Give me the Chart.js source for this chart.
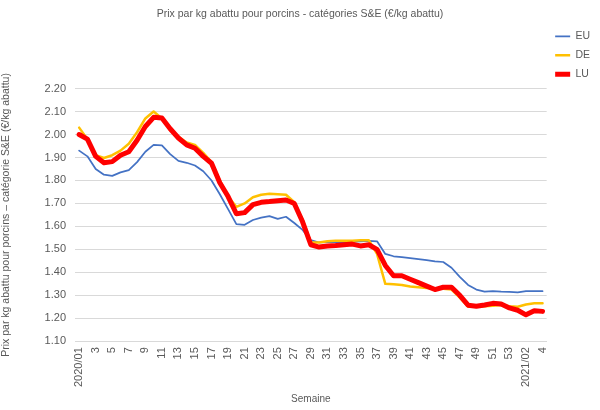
<!DOCTYPE html>
<html lang="fr">
<head>
    <meta charset="UTF-8">
    <title>Prix par kg abattu pour porcins</title>
    <style>
        html, body {
            margin: 0;
            padding: 0;
            background: #ffffff;
        }
        #wrap {
            width: 600px;
            height: 410px;
        }
    </style>
    <script src="https://cdn.jsdelivr.net/npm/chart.js"></script>
</head>
<body>
    <div id="wrap"><canvas id="porcChart"></canvas></div>

    <script>
        // Semaines 2020/01 .. 2020/53, puis 2021/01 .. 2021/04
        const weeks = [
            '2020/01', '2', '3', '4', '5', '6', '7', '8', '9', '10',
            '11', '12', '13', '14', '15', '16', '17', '18', '19', '20',
            '21', '22', '23', '24', '25', '26', '27', '28', '29', '30',
            '31', '32', '33', '34', '35', '36', '37', '38', '39', '40',
            '41', '42', '43', '44', '45', '46', '47', '48', '49', '50',
            '51', '52', '53', '2021/01', '2021/02', '3', '4'
        ];

        const euPrices = [
            1.93, 1.905, 1.85, 1.825, 1.82, 1.835, 1.845, 1.88, 1.925, 1.955,
            1.953, 1.915, 1.885, 1.877, 1.865, 1.84, 1.80, 1.74, 1.675, 1.61,
            1.607, 1.628, 1.638, 1.645, 1.633, 1.642, 1.615, 1.585, 1.54, 1.53,
            1.532, 1.533, 1.532, 1.534, 1.535, 1.537, 1.535, 1.48, 1.47, 1.466,
            1.462, 1.458, 1.453, 1.448, 1.445, 1.42, 1.38, 1.345, 1.325, 1.316,
            1.318, 1.316, 1.315, 1.313, 1.318, 1.318, 1.318
        ];

        const dePrices = [
            2.03, 1.98, 1.91, 1.898, 1.91, 1.93, 1.96, 2.01, 2.07, 2.10,
            2.07, 2.02, 1.99, 1.965, 1.955, 1.92, 1.88, 1.80, 1.73, 1.685,
            1.70, 1.727, 1.738, 1.742, 1.74, 1.738, 1.705, 1.63, 1.53, 1.53,
            1.535, 1.537, 1.537, 1.538, 1.54, 1.54, 1.48, 1.35, 1.348, 1.345,
            1.338, 1.335, 1.332, 1.33, 1.328, 1.325, 1.29, 1.25, 1.25, 1.252,
            1.255, 1.258, 1.252, 1.25, 1.26, 1.265, 1.265
        ];

        const luPrices = [
            2.00, 1.98, 1.905, 1.877, 1.882, 1.91, 1.925, 1.975, 2.035, 2.075,
            2.072, 2.025, 1.985, 1.955, 1.94, 1.905, 1.875, 1.79, 1.73, 1.655,
            1.66, 1.695, 1.705, 1.708, 1.712, 1.715, 1.70, 1.62, 1.52, 1.51,
            1.515, 1.517, 1.52, 1.523, 1.515, 1.52, 1.50, 1.43, 1.385, 1.385,
            1.37, 1.355, 1.34, 1.325, 1.335, 1.335, 1.30, 1.257, 1.252, 1.258,
            1.265, 1.262, 1.245, 1.235, 1.215, 1.233, 1.23
        ];

        const yTicks = [1.10, 1.20, 1.30, 1.40, 1.50, 1.60, 1.70, 1.80, 1.90, 2.00, 2.10, 2.20];

        const grey = '#595959';
        const fontFamily = '"Liberation Sans", Arial, sans-serif';

        const ctx = document.getElementById('porcChart').getContext('2d');
        new Chart(ctx, {
            type: 'line',
            data: {
                labels: weeks,
                datasets: [
                    {
                        label: 'EU',
                        data: euPrices,
                        borderColor: '#4472C4',
                        borderWidth: 1.75,
                        order: 2
                    },
                    {
                        label: 'DE',
                        data: dePrices,
                        borderColor: '#FFC000',
                        borderWidth: 2.5,
                        order: 1
                    },
                    {
                        label: 'LU',
                        data: luPrices,
                        borderColor: '#FF0000',
                        borderWidth: 5,
                        order: 0
                    }
                ]
            },
            options: {
                responsive: true,
                maintainAspectRatio: false,
                animation: false,
                elements: {
                    point: { radius: 0 },
                    line: { tension: 0, borderJoinStyle: 'round', borderCapStyle: 'round' }
                },
                layout: {
                    padding: { left: 0, right: 0, top: 2, bottom: 5 }
                },
                plugins: {
                    title: {
                        display: true,
                        text: 'Prix par kg abattu pour porcins - catégories S&E (€/kg abattu)',
                        color: grey,
                        font: { family: fontFamily, size: 10.5, weight: 'normal' },
                        padding: { top: 6, bottom: 68 }
                    },
                    legend: {
                        position: 'right',
                        align: 'start',
                        title: {
                            display: true,
                            text: ' ',
                            font: { family: fontFamily, size: 10.5 },
                            padding: { top: 0, bottom: 8 }
                        },
                        labels: {
                            color: grey,
                            font: { family: fontFamily, size: 10.5 },
                            usePointStyle: true,
                            pointStyle: 'line',
                            pointStyleWidth: 15,
                            padding: 8.5,
                            sort: (a, b) => a.datasetIndex - b.datasetIndex
                        }
                    },
                    tooltip: { enabled: false }
                },
                scales: {
                    x: {
                        type: 'category',
                        offset: true,
                        grid: { display: false, drawTicks: false },
                        border: { color: '#d9d9d9' },
                        ticks: {
                            autoSkip: false,
                            maxRotation: 90,
                            minRotation: 90,
                            color: grey,
                            font: { family: fontFamily, size: 11 },
                            padding: 6,
                            callback: function (value, index) {
                                return index % 2 === 0 ? weeks[index] : '';
                            }
                        },
                        title: {
                            display: true,
                            text: 'Semaine',
                            color: grey,
                            font: { family: fontFamily, size: 10 },
                            padding: { top: 0, bottom: 0 }
                        }
                    },
                    y: {
                        min: yTicks[0],
                        max: yTicks[yTicks.length - 1],
                        afterBuildTicks: function (axis) {
                            axis.ticks = yTicks.map(v => ({ value: v }));
                        },
                        grid: { color: '#d9d9d9', drawTicks: false },
                        border: { display: false },
                        ticks: {
                            color: grey,
                            font: { family: fontFamily, size: 11 },
                            padding: 9,
                            callback: v => v.toFixed(2)
                        },
                        title: {
                            display: true,
                            text: 'Prix par kg abattu pour porcins – catégorie S&E (€/kg abattu)',
                            color: grey,
                            font: { family: fontFamily, size: 10.5 },
                            padding: { top: 0, bottom: 23 }
                        }
                    }
                }
            }
        });
    </script>
</body>
</html>
